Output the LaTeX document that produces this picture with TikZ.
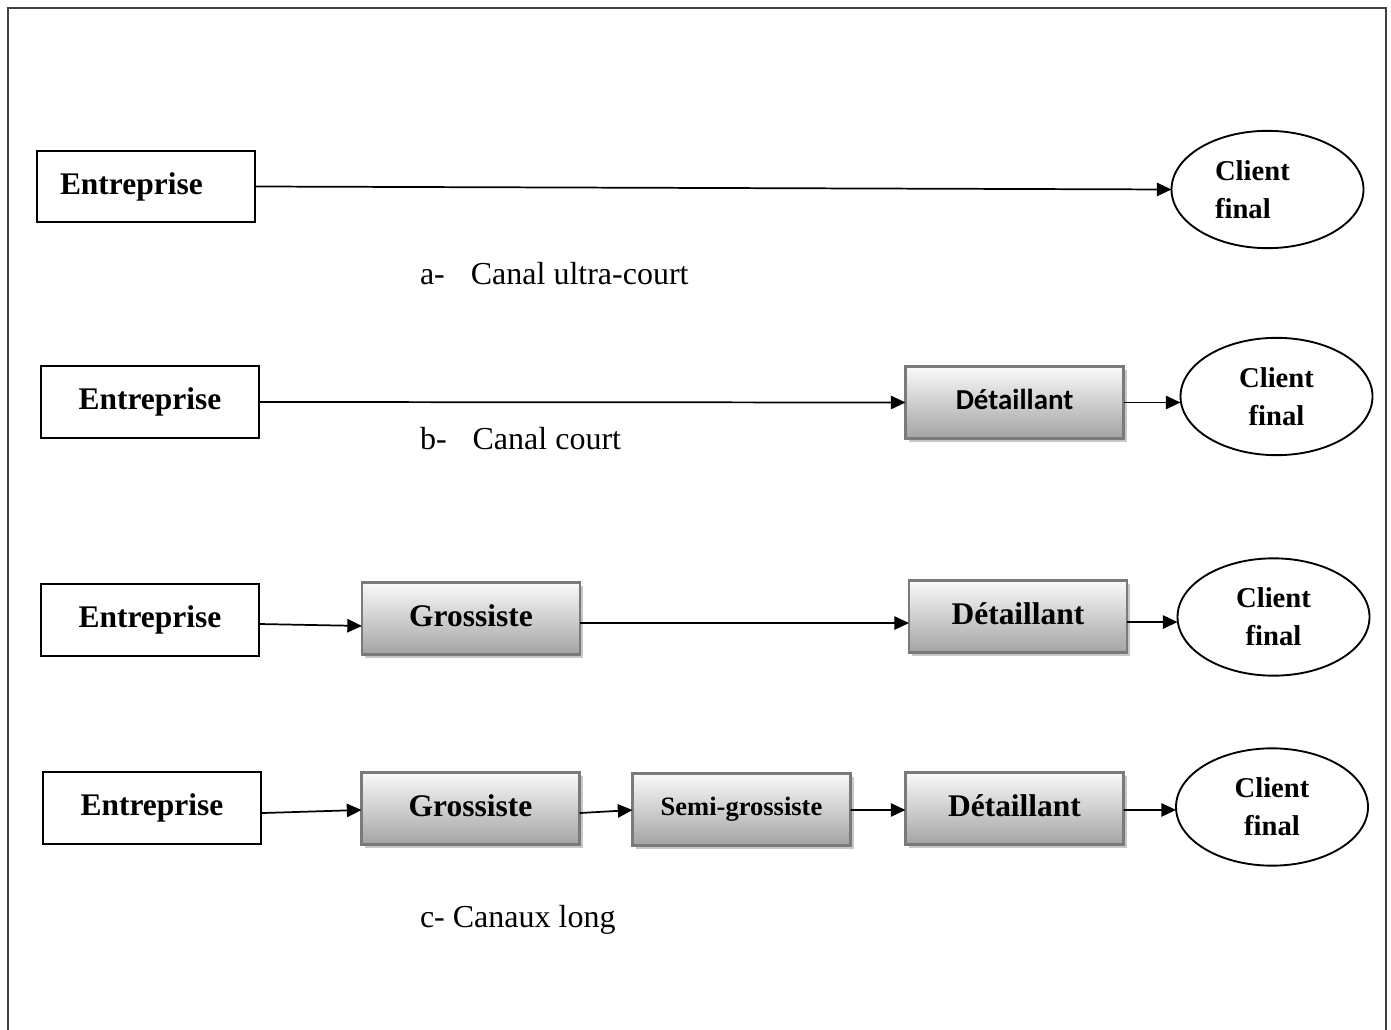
\documentclass[tikz,border=0pt]{standalone}
\usepackage{fontspec}
\setmainfont{Liberation Serif}
\newfontfamily\calibrifont{Carlito}
\usetikzlibrary{shapes.geometric,arrows.meta,shadows}

\begin{document}
\begin{tikzpicture}[x=0.75pt,y=-0.75pt,
  every node/.style={inner sep=0pt, outer sep=0pt},
  boxfont/.style={font=\fontsize{23.6}{28}\selectfont\bfseries},
  firm/.style={draw, line width=1.4pt, minimum width=163.5pt,
    minimum height=53.5pt, boxfont},
  agent/.style={draw=black!52, line width=2.2pt, top color=black!2,
    bottom color=black!36, minimum width=163.5pt, minimum height=54pt,
    boxfont, drop shadow={shadow xshift=2.5pt, shadow yshift=-2.5pt,
    fill=black!22, opacity=1}},
  client/.style={ellipse, draw, line width=1.4pt, minimum width=144pt,
    minimum height=88pt, align=center,
    font=\fontsize{21.5}{28.5}\selectfont\bfseries},
  flow/.style={-{Triangle[length=11pt,width=10pt]}, line width=1.3pt},
  caption/.style={anchor=base west, font=\fontsize{24}{28}\selectfont}]

\useasboundingbox (0,0) rectangle (1391,1030);

% outer frame (open at the bottom edge)
\draw[black!75, line width=1.5pt] (8,1032) -- (8,8) -- (1386,8) -- (1386,1032);

% a- ultra-short channel
\node[firm, text width=129pt, align=left] (e1) at (146,186.5) {\raisebox{3pt}{Entreprise}};
\node[client, text width=78.75pt, align=left] (c1) at (1267.5,189.5) {Client\\final};
\draw[flow] (e1.east) -- (c1.west);
\node[caption] (la) at (420,285) {a-\hspace{19.5pt}Canal ultra-court};

% b- short channel
\node[firm] (e2) at (150,402) {\raisebox{3pt}{Entreprise}};
\node[agent, font=\fontsize{21.7}{26}\selectfont\calibrifont\bfseries] (d2) at (1014.5,402.5) {\raisebox{4pt}{Détaillant}};
\node[client] (c2) at (1276.5,396.5) {Client\\final};
\draw[flow] (e2.east) -- (d2.west);
\draw[flow] (d2.east) -- (c2.west |- d2.east);
\node[caption] (lb) at (420,449) {b-\hspace{19.5pt}Canal court};

% c- long channel, one wholesaler
\node[firm] (e3) at (150,620) {\raisebox{3.5pt}{Entreprise}};
\node[agent] (g3) at (471,618.5) {\raisebox{4pt}{Grossiste}};
\node[agent] (d3) at (1018,616.5) {\raisebox{4pt}{Détaillant}};
\node[client] (c3) at (1273.5,617) {Client\\final};
\draw[flow] ([yshift=-3pt]e3.east) -- ([yshift=-5.6pt]g3.west);
\draw[flow] ([yshift=-3.4pt]g3.east) -- ([yshift=-4.9pt]d3.west);
\draw[flow] ([yshift=-4.1pt]d3.east) -- ([yshift=-3.8pt]c3.west);

% c- long channel, wholesaler and semi-wholesaler
\node[firm] (e4) at (152,808) {\raisebox{3.5pt}{Entreprise}};
\node[agent] (g4) at (470.5,808.5) {\raisebox{4pt}{Grossiste}};
\node[agent, font=\fontsize{19.9}{24}\selectfont\bfseries] (s4) at (741.5,809.5) {\raisebox{5pt}{Semi-grossiste}};
\node[agent] (d4) at (1014.5,808.5) {\raisebox{4pt}{Détaillant}};
\node[client] (c4) at (1272,807) {Client\\final};
\draw[flow] ([yshift=-3.8pt]e4.east) -- ([yshift=-1.1pt]g4.west);
\draw[flow] ([yshift=-3.4pt]g4.east) -- ([yshift=-0.4pt]s4.west);
\draw[flow] ([yshift=-0.4pt]s4.east) -- ([yshift=-1.1pt]d4.west);
\draw[flow] ([yshift=-1.1pt]d4.east) -- ([yshift=-2.2pt]c4.west);
\node[caption] (lc) at (420,927) {c- Canaux long};

\end{tikzpicture}
\end{document}
